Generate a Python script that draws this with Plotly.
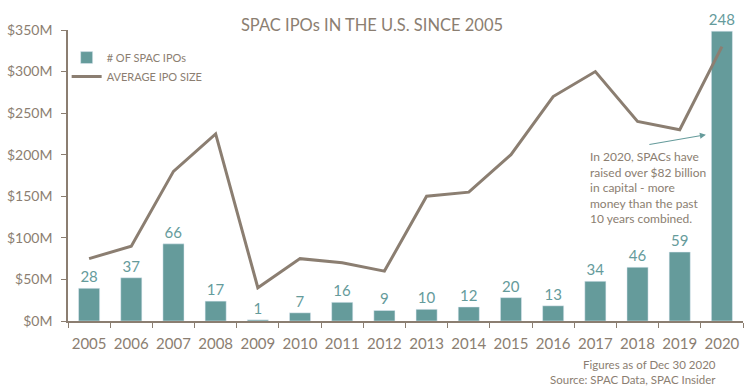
import plotly.graph_objects as go

years = ["2005", "2006", "2007", "2008", "2009", "2010", "2011", "2012",
         "2013", "2014", "2015", "2016", "2017", "2018", "2019", "2020"]
spac_ipos = [28, 37, 66, 17, 1, 7, 16, 9, 10, 12, 20, 13, 34, 46, 59, 248]
avg_ipo_size = [75, 90, 180, 225, 40, 75, 70, 60, 150, 155, 200, 270, 300, 240, 230, 330]
y_ticks = [0, 50, 100, 150, 200, 250, 300, 350]
y_tick_labels = ["$0M", "$50M", "$100M", "$150M", "$200M", "$250M", "$300M", "$350M"]

TEAL = "#659B9B"
BROWN = "#8B7E71"
TEXT = "#8B7E71"
FONT = "Lato, Open Sans, sans-serif"

fig = go.Figure()
fig.add_trace(go.Bar(
    x=years, y=spac_ipos, name="# OF SPAC IPOs", yaxis="y",
    marker_color=TEAL, width=0.5,
    text=spac_ipos, textposition="outside", cliponaxis=False, constraintext="none",
    textfont=dict(color=TEAL, size=15, family=FONT),
))
fig.add_trace(go.Scatter(
    x=years, y=avg_ipo_size, name="AVERAGE IPO SIZE", yaxis="y2",
    mode="lines", line=dict(color=BROWN, width=3),
))

fig.update_layout(
    width=750, height=389,
    margin=dict(l=68, r=7, t=30, b=68),
    paper_bgcolor="white", plot_bgcolor="white",
    font=dict(family=FONT, color=TEXT),
    title=dict(text="SPAC IPOs IN THE U.S. SINCE 2005", x=0.496, xanchor="center",
               y=0.935, yanchor="middle", font=dict(size=16.5, color=TEXT, family=FONT)),
    showlegend=True,
    legend=dict(x=-0.002, y=0.955, xanchor="left", yanchor="top",
                font=dict(size=11, color=TEXT, family=FONT),
                bgcolor="rgba(0,0,0,0)", itemwidth=30, tracegroupgap=2),
    xaxis=dict(type="category", showline=True, linecolor=BROWN, linewidth=1.5,
               ticks="outside", tickson="boundaries", ticklen=5, tickcolor=BROWN,
               tickangle=0, automargin=False, ticklabelstandoff=8,
               tickfont=dict(size=15, color=TEXT, family=FONT), showgrid=False,
               range=[-0.5, 15.5]),
    yaxis=dict(range=[0, 249], visible=False, showgrid=False, automargin=False),
    yaxis2=dict(overlaying="y", side="left", range=[0, 350], tickmode="array",
                tickvals=y_ticks, ticktext=y_tick_labels, showline=True, linecolor=BROWN,
                linewidth=1.5, ticks="outside", ticklen=5, tickcolor=BROWN,
                automargin=False, ticklabelstandoff=6,
                tickfont=dict(size=14, color=TEXT, family=FONT), showgrid=False,
                zeroline=False),
)

fig.add_annotation(
    xref="paper", yref="paper", x=0.77, y=0.598, xanchor="left", yanchor="top",
    align="left", showarrow=False,
    text="In 2020, SPACs have<br>raised over $82 billion<br>in capital - more<br>money than the past<br>10 years combined.",
    font=dict(size=12, color=TEXT, family=FONT),
)
fig.add_annotation(
    xref="paper", yref="paper", x=0.945, y=0.64, ax=-58, ay=10,
    showarrow=True, arrowhead=2, arrowsize=1, arrowwidth=1.2, arrowcolor=TEAL, text="",
)
fig.add_annotation(
    xref="paper", yref="paper", x=0.963, y=-0.12, xanchor="right", yanchor="top",
    align="right", showarrow=False,
    text="Figures as of Dec 30 2020<br>Source: SPAC Data, SPAC Insider",
    font=dict(size=11.5, color=TEXT, family=FONT),
)

fig.write_html("out.html", config={"displayModeBar": False},
               post_script="document.body.style.margin='0';document.body.style.overflow='hidden';")
